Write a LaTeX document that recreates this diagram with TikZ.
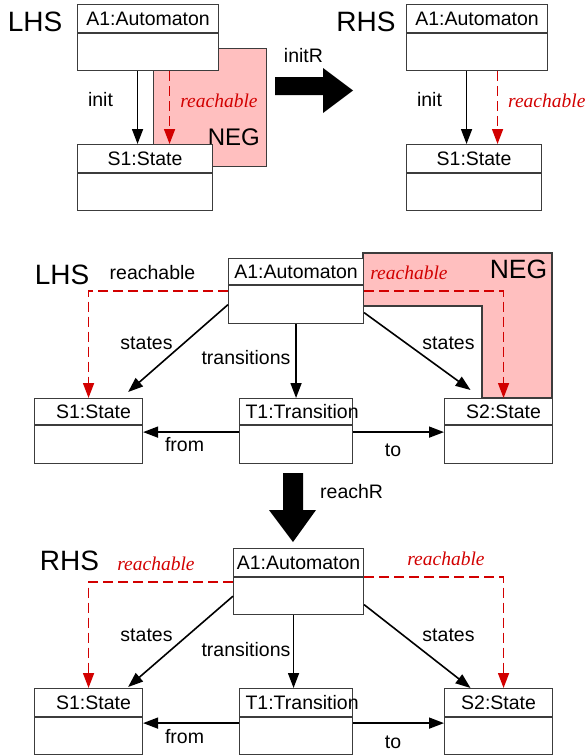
\documentclass[tikz,border=0pt]{standalone}
\usepackage{fontspec}
\setmainfont{Liberation Sans}
\newfontfamily\reachfont{Liberation Serif}
\usetikzlibrary{arrows.meta}

\definecolor{negpink}{RGB}{255,191,191}
\definecolor{reachred}{RGB}{210,0,0}
\definecolor{boxgray}{RGB}{60,60,60}
\newcommand{\objfont}{\fontsize{19.5}{22}\selectfont}
\newcommand{\sidefont}{\fontsize{28}{30}\selectfont}
\tikzstyle{objhead}=[draw=boxgray, line width=1.1pt, fill=white, rectangle, inner sep=0pt, minimum height=28pt, font=\objfont]
\tikzstyle{objbody}=[draw=boxgray, line width=1.1pt, fill=white, rectangle, inner sep=0pt, minimum height=37pt, anchor=north]
\tikzstyle{objlink}=[line width=1.6pt, -{Triangle[length=15pt,width=11pt]}]
\tikzstyle{reachlink}=[reachred, line width=1.6pt, dash pattern=on 10pt off 5pt, -{Triangle[length=15pt,width=11pt]}]
\tikzstyle{lbl}=[font=\objfont, inner sep=0pt]
\tikzstyle{rlbl}=[font=\objfont\reachfont\itshape, text=reachred, inner sep=0pt]
\tikzstyle{sidelbl}=[font=\sidefont, inner sep=0pt]
\tikzstyle{negzone}=[draw=boxgray, line width=1.1pt, fill=negpink]
\tikzstyle{bigarrow}=[fill=black]

\begin{document}
\begin{tikzpicture}[x=1pt, y=-1pt]
  \useasboundingbox (0,0) rectangle (587,755);

  % initR: LHS
  \node[negzone, minimum width=113pt, minimum height=118pt, anchor=north west] (negL) at (153,48) {};
  \node[font=\fontsize{24}{26}\selectfont, inner sep=0pt, anchor=south east] (negLtxt) at ([xshift=-7pt,yshift=21pt]negL.south east) {NEG};
  \node[objhead, minimum width=141pt, anchor=north west] (A1L) at (77,4) {A1:Automaton};
  \node[objbody, minimum width=141pt] (A1Lb) at (A1L.south) {};
  \node[objhead, minimum width=135pt, anchor=north west] (S1L) at (77,144) {S1:State};
  \node[objbody, minimum width=135pt] (S1Lb) at (S1L.south) {};
  \node[sidelbl] (lhsT) at (35,22) {LHS};
  \draw[objlink] ([xshift=-10.5pt]A1Lb.south) -- ([xshift=-10.5pt]A1Lb.south |- S1L.north);
  \draw[reachlink] ([xshift=21.5pt]A1Lb.south) -- ([xshift=21.5pt]A1Lb.south |- S1L.north);
  \node[lbl] (initLl) at (100.5,100) {init};
  \node[rlbl] (reachLl) at (219,101) {reachable};

  % initR arrow
  \fill[bigarrow] (275,77) -- (323,77) -- (323,68) -- (353,90.5) -- (323,113) -- (323,95) -- (275,95) -- cycle;
  \node[lbl] (initR) at (303.5,56) {initR};

  % initR: RHS
  \node[objhead, minimum width=141pt, anchor=north west] (A1R) at (406,4) {A1:Automaton};
  \node[objbody, minimum width=141pt] (A1Rb) at (A1R.south) {};
  \node[objhead, minimum width=135pt, anchor=north west] (S1R) at (406,144) {S1:State};
  \node[objbody, minimum width=135pt] (S1Rb) at (S1R.south) {};
  \node[sidelbl] (rhsT) at (366,22) {RHS};
  \draw[objlink] ([xshift=-10.5pt]A1Rb.south) -- ([xshift=-10.5pt]A1Rb.south |- S1R.north);
  \draw[reachlink] ([xshift=20.5pt]A1Rb.south) -- ([xshift=20.5pt]A1Rb.south |- S1R.north);
  \node[lbl] (initRl) at (429.5,100) {init};
  \node[rlbl, anchor=west] (reachRl) at (508,101) {reachable};

  % reachR: LHS
  \draw[negzone] (363,253) -- (552,253) -- (552,398) -- (482,398) -- (482,306) -- (363,306) -- cycle;
  \node[font=\fontsize{26.5}{28}\selectfont, inner sep=0pt] (negM) at (518.5,269) {NEG};
  \node[objhead, minimum width=135pt, minimum height=26pt, anchor=north west] (A1M) at (228,258) {A1:Automaton};
  \node[objbody, minimum width=135pt, minimum height=38pt] (A1Mb) at (A1M.south) {};
  \node[objhead, minimum width=108pt, minimum height=26pt, anchor=north west] (S1M) at (34,398) {\hspace*{10pt}S1:State};
  \node[objbody, minimum width=108pt, minimum height=38pt] (S1Mb) at (S1M.south) {};
  \node[objhead, minimum width=113pt, minimum height=26pt, anchor=north west] (T1M) at (239,398) {\makebox[101pt][l]{T1:Transition}};
  \node[objbody, minimum width=113pt, minimum height=38pt] (T1Mb) at (T1M.south) {};
  \node[objhead, minimum width=108pt, minimum height=26pt, anchor=north west] (S2M) at (444,398) {\hspace*{10pt}S2:State};
  \node[objbody, minimum width=108pt, minimum height=38pt] (S2Mb) at (S2M.south) {};
  \draw[reachlink] ([yshift=-6pt]A1Mb.north west) -| (S1M.north);
  \draw[reachlink] ([yshift=-6pt]A1Mb.north east) -| ([xshift=5pt]S2M.north);
  \draw[objlink] (A1Mb.west) -- ([xshift=-15pt,yshift=6pt]S1M.north east);
  \draw[objlink] (A1Mb.south) -- (T1M.north);
  \draw[objlink] ([yshift=-8pt]A1Mb.east) -- ([xshift=-28pt,yshift=8pt]S2M.north);
  \draw[objlink] ([yshift=-7pt]T1Mb.north west) -- ([yshift=-7pt]S1Mb.north east);
  \draw[objlink] ([yshift=-7pt]T1Mb.north east) -- ([yshift=-7pt]S2Mb.north west);
  \node[sidelbl] (lhsM) at (62,275) {LHS};
  \node[lbl] (reachMl) at (152.5,273) {reachable};
  \node[rlbl] (reachMr) at (409,273) {reachable};
  \node[lbl] (statesMl) at (146.5,343) {states};
  \node[lbl] (transM) at (246,358) {transitions};
  \node[lbl] (statesMr) at (448.5,343) {states};
  \node[lbl] (fromM) at (184.5,445) {from};
  \node[lbl] (toM) at (393,450) {to};

  % reachR arrow
  \fill[bigarrow] (283,473) -- (303,473) -- (303,510) -- (316,510) -- (293,542) -- (269,510) -- (283,510) -- cycle;
  \node[lbl, anchor=west] (reachR) at (320,492) {reachR};

  % reachR: RHS
  \node[objhead, minimum width=130pt, anchor=north west] (A1B) at (233,548) {A1:Automaton};
  \node[objbody, minimum width=130pt] (A1Bb) at (A1B.south) {};
  \node[objhead, minimum width=108pt, anchor=north west] (S1B) at (34,688) {\hspace*{10pt}S1:State};
  \node[objbody, minimum width=108pt] (S1Bb) at (S1B.south) {};
  \node[objhead, minimum width=113pt, anchor=north west] (T1B) at (239,688) {\makebox[101pt][l]{T1:Transition}};
  \node[objbody, minimum width=113pt] (T1Bb) at (T1B.south) {};
  \node[objhead, minimum width=108pt, anchor=north west] (S2B) at (444,688) {S2:State};
  \node[objbody, minimum width=108pt] (S2Bb) at (S2B.south) {};
  \draw[reachlink] ([yshift=-5pt]A1Bb.north west) -| (S1B.north);
  \draw[reachlink] (A1Bb.north east) -| ([xshift=5pt]S2B.north);
  \draw[objlink] (A1Bb.west) -- ([xshift=-15pt,yshift=1pt]S1B.north east);
  \draw[objlink] ([xshift=-5pt]A1Bb.south) -- ([xshift=-5pt]A1Bb.south |- T1B.north);
  \draw[objlink] ([yshift=-8.5pt]A1Bb.east) -- ([xshift=-28pt]S2B.north);
  \draw[objlink] ([yshift=-6pt]T1Bb.north west) -- ([yshift=-6pt]S1Bb.north east);
  \draw[objlink] ([yshift=-6pt]T1Bb.north east) -- ([yshift=-6pt]S2Bb.north west);
  \node[sidelbl] (rhsB) at (69.5,560.5) {RHS};
  \node[rlbl] (reachBl) at (156,564) {reachable};
  \node[rlbl] (reachBr) at (446,559) {reachable};
  \node[lbl] (statesBl) at (146.5,635) {states};
  \node[lbl] (transB) at (246,650) {transitions};
  \node[lbl] (statesBr) at (448.5,635) {states};
  \node[lbl] (fromB) at (184.5,737) {from};
  \node[lbl] (toB) at (393,742) {to};
\end{tikzpicture}
\end{document}
